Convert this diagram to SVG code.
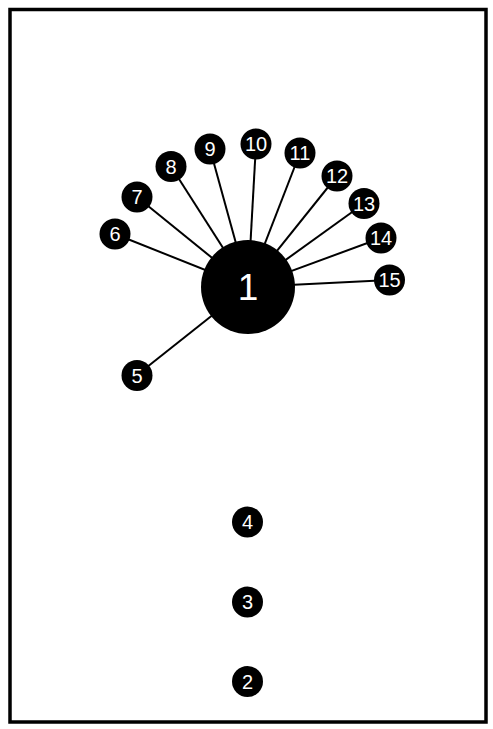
<svg xmlns="http://www.w3.org/2000/svg" width="493" height="729" viewBox="0 0 493 729">
<style>
.edge{stroke:#000;stroke-width:2;fill:none}
.n circle{fill:#000}
.n text{fill:#fff;font-family:"Liberation Sans",Arial,sans-serif;font-size:20px;text-anchor:middle;dominant-baseline:central}
#n1 text{font-size:37px}
</style>
<rect x="0" y="0" width="493" height="729" fill="#fff"/>
<rect x="10" y="9.5" width="476" height="712.5" fill="none" stroke="#000" stroke-width="3.5"/>
<g id="edges">
<line class="edge" x1="248" y1="287" x2="137" y2="375"/>
<line class="edge" x1="248" y1="287" x2="115" y2="234"/>
<line class="edge" x1="248" y1="287" x2="137" y2="197"/>
<line class="edge" x1="248" y1="287" x2="171" y2="166.5"/>
<line class="edge" x1="248" y1="287" x2="210" y2="149"/>
<line class="edge" x1="248" y1="287" x2="256" y2="144"/>
<line class="edge" x1="248" y1="287" x2="300" y2="153"/>
<line class="edge" x1="248" y1="287" x2="337" y2="176"/>
<line class="edge" x1="248" y1="287" x2="364" y2="203.5"/>
<line class="edge" x1="248" y1="287" x2="381" y2="238"/>
<line class="edge" x1="248" y1="287" x2="389.5" y2="280"/>
</g>
<g id="n1" class="n"><circle cx="248" cy="287" r="47"/><text x="248" y="287">1</text></g>
<g id="n2" class="n"><circle cx="247.5" cy="681.5" r="15.5"/><text x="247.5" y="681.5">2</text></g>
<g id="n3" class="n"><circle cx="247.5" cy="602" r="15.5"/><text x="247.5" y="602">3</text></g>
<g id="n4" class="n"><circle cx="247.5" cy="522" r="15.5"/><text x="247.5" y="522">4</text></g>
<g id="n5" class="n"><circle cx="137" cy="375.5" r="15.5"/><text x="137" y="375.5">5</text></g>
<g id="n6" class="n"><circle cx="115" cy="234" r="15.5"/><text x="115" y="234">6</text></g>
<g id="n7" class="n"><circle cx="137" cy="197" r="15.5"/><text x="137" y="197">7</text></g>
<g id="n8" class="n"><circle cx="171" cy="166.5" r="15.5"/><text x="171" y="166.5">8</text></g>
<g id="n9" class="n"><circle cx="210" cy="149" r="15.5"/><text x="210" y="149">9</text></g>
<g id="n10" class="n"><circle cx="256" cy="144" r="15.5"/><text x="256" y="144">10</text></g>
<g id="n11" class="n"><circle cx="300" cy="153" r="15.5"/><text x="300" y="153">11</text></g>
<g id="n12" class="n"><circle cx="337" cy="176" r="15.5"/><text x="337" y="176">12</text></g>
<g id="n13" class="n"><circle cx="364" cy="203.5" r="15.5"/><text x="364" y="203.5">13</text></g>
<g id="n14" class="n"><circle cx="381" cy="238" r="15.5"/><text x="381" y="238">14</text></g>
<g id="n15" class="n"><circle cx="389.5" cy="280" r="15.5"/><text x="389.5" y="280">15</text></g>
</svg>
